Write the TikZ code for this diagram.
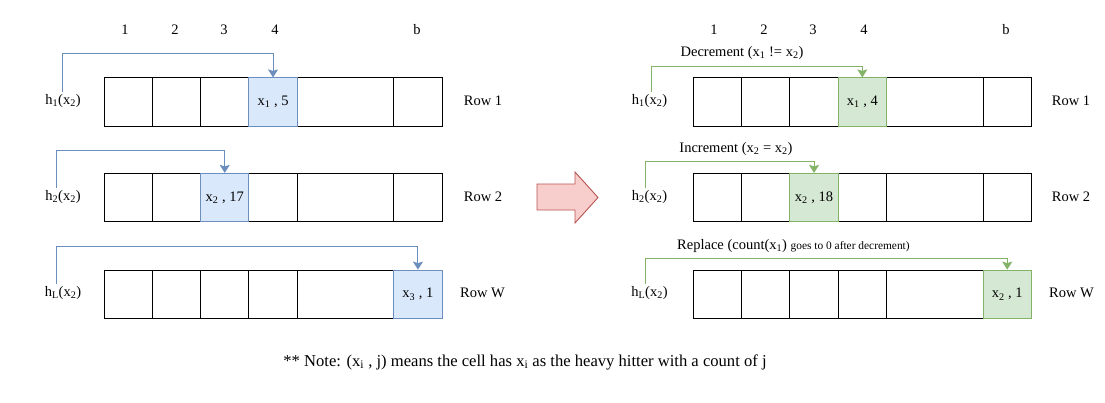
\documentclass[tikz,border=0pt]{standalone}
\usepackage{fontspec}
\setmainfont{Liberation Serif}
\usetikzlibrary{arrows.meta}
\definecolor{blueF}{HTML}{DAE8FC}
\definecolor{blueD}{HTML}{6C8EBF}
\definecolor{greenF}{HTML}{D5E8D4}
\definecolor{greenD}{HTML}{82B366}
\definecolor{pinkF}{HTML}{F8CECC}
\definecolor{pinkD}{HTML}{B85450}
\newcommand{\sub}[1]{\textsubscript{#1}}
\begin{document}
\begin{tikzpicture}[x=1pt,y=-1pt,
  every node/.style={font=\fontsize{14.5}{17}\selectfont},
  cell/.style={draw=black, line width=0.9pt, minimum height=48.3pt, minimum width=48.3pt, inner sep=0pt},
  wcell/.style={cell, minimum width=96.6pt},
  bluecell/.style={cell, fill=blueF, draw=blueD},
  greencell/.style={cell, fill=greenF, draw=greenD},
  lbl/.style={inner sep=2pt},
  bluearr/.style={line width=1pt, draw=blueD, -{Stealth[length=8pt,width=10pt,inset=1.5pt,fill=blueD]}},
  greenarr/.style={line width=1pt, draw=greenD, -{Stealth[length=8pt,width=10pt,inset=1.5pt,fill=greenD]}},
]
\useasboundingbox (0,0) rectangle (1105,402);

% column headers
\foreach \n/\x in {1/125,2/175,3/224,4/275,b/417}{
  \node[lbl] (hdL\n) at (\x,30) {\n};
  \node[lbl] (hdR\n) at (\x+589,30) {\n};
}

% ---------- left panel ----------
\node[cell]  (L11) at (128.15,102) {};
\node[cell]  (L12) at (176.45,102) {};
\node[cell]  (L13) at (224.75,102) {};
\node[wcell] (L15) at (345.5,102) {};
\node[cell]  (L16) at (417.95,102) {};
\node[bluecell] (L14) at (273.05,102) {x\sub{1} , 5};

\node[cell]  (L21) at (128.15,197.5) {};
\node[cell]  (L22) at (176.45,197.5) {};
\node[cell]  (L24) at (273.05,197.5) {};
\node[wcell] (L25) at (345.5,197.5) {};
\node[cell]  (L26) at (417.95,197.5) {};
\node[bluecell] (L23) at (224.75,197.5) {x\sub{2} , 17};

\node[cell]  (L31) at (128.15,294.2) {};
\node[cell]  (L32) at (176.45,294.2) {};
\node[cell]  (L33) at (224.75,294.2) {};
\node[cell]  (L34) at (273.05,294.2) {};
\node[wcell] (L35) at (345.5,294.2) {};
\node[bluecell] (L36) at (417.95,294.2) {x\sub{3} , 1};

\node[lbl] (hL1) at (63,101) {h\sub{1}(x\sub{2})};
\node[lbl] (hL2) at (63,197) {h\sub{2}(x\sub{2})};
\node[lbl] (hL3) at (63,293) {h\sub{L}(x\sub{2})};

\node[lbl] (rL1) at (483,101) {Row 1};
\node[lbl] (rL2) at (483,197) {Row 2};
\node[lbl] (rL3) at (482.5,293) {Row W};

\coordinate (aL1) at (62.3,53.3);
\coordinate (aL2) at (56.7,150);
\coordinate (aL3) at (56.7,246);
\draw[bluearr] (hL1.north -| aL1) -- (aL1) -| (L14.north);
\draw[bluearr] (hL2.north -| aL2) -- (aL2) -| (L23.north);
\draw[bluearr] (hL3.north -| aL3) -- (aL3) -| (L36.north);

% ---------- big arrow ----------
\draw[fill=pinkF, draw=pinkD, line width=0.9pt, line join=miter]
  (537,184) -- (575,184) -- (575,172) -- (598,197.5) -- (575,223) -- (575,210) -- (537,210) -- cycle;

% ---------- right panel ----------
\node[cell]  (R11) at (717.45,102) {};
\node[cell]  (R12) at (765.75,102) {};
\node[cell]  (R13) at (814.05,102) {};
\node[wcell] (R15) at (934.8,102) {};
\node[cell]  (R16) at (1007.25,102) {};
\node[greencell] (R14) at (862.35,102) {x\sub{1} , 4};

\node[cell]  (R21) at (717.45,197.5) {};
\node[cell]  (R22) at (765.75,197.5) {};
\node[cell]  (R24) at (862.35,197.5) {};
\node[wcell] (R25) at (934.8,197.5) {};
\node[cell]  (R26) at (1007.25,197.5) {};
\node[greencell] (R23) at (814.05,197.5) {x\sub{2} , 18};

\node[cell]  (R31) at (717.45,294.2) {};
\node[cell]  (R32) at (765.75,294.2) {};
\node[cell]  (R33) at (814.05,294.2) {};
\node[cell]  (R34) at (862.35,294.2) {};
\node[wcell] (R35) at (934.8,294.2) {};
\node[greencell] (R36) at (1007.25,294.2) {x\sub{2} , 1};

\node[lbl] (hR1) at (649.5,101) {h\sub{1}(x\sub{2})};
\node[lbl] (hR2) at (649.5,197) {h\sub{2}(x\sub{2})};
\node[lbl] (hR3) at (649.5,293) {h\sub{L}(x\sub{2})};

\node[lbl] (rR1) at (1071,101) {Row 1};
\node[lbl] (rR2) at (1071,197) {Row 2};
\node[lbl] (rR3) at (1071.5,293) {Row W};

\node[lbl] (tR1) at (742,53.3) {Decrement (x\sub{1} != x\sub{2})};
\node[lbl] (tR2) at (736,149) {Increment (x\sub{2} = x\sub{2})};
\node[lbl, anchor=west] (tR3) at (675,246) {Replace (count(x\sub{1}) {\fontsize{11.4}{13}\selectfont goes to 0 after decrement)}};

\coordinate (aR1) at (651,66);
\coordinate (aR2) at (645.7,161.7);
\coordinate (aR3) at (645.7,258.3);
\draw[greenarr] (hR1.north -| aR1) -- (aR1) -| (R14.north);
\draw[greenarr] (hR2.north -| aR2) -- (aR2) -| (R23.north);
\draw[greenarr] (hR3.north -| aR3) -- (aR3) -| (R36.north);

% ---------- note ----------
\node[lbl, font=\fontsize{16.6}{19}\selectfont] (note) at (525,362)
  {** Note: (x\sub{i} , j) means the cell has x\sub{i} as the heavy hitter with a count of j};
\end{tikzpicture}
\end{document}
